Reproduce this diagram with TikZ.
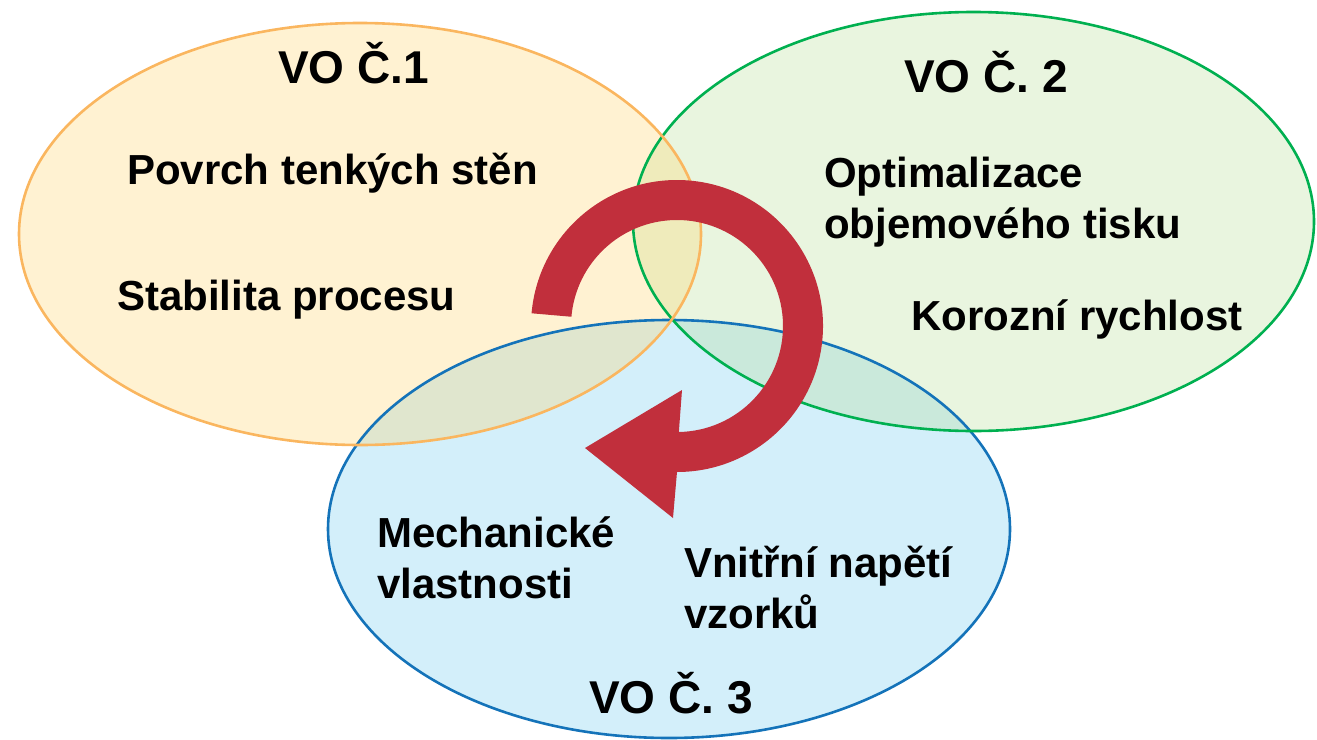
\documentclass[tikz,border=0pt]{standalone}
\usepackage{fontspec}
\setmainfont{Liberation Sans}
\usetikzlibrary{calc}
\definecolor{fillA}{RGB}{255,212,105}
\definecolor{fillB}{RGB}{182,222,148}
\definecolor{fillC}{RGB}{108,202,238}
\definecolor{lineA}{RGB}{250,182,95}
\definecolor{lineB}{RGB}{0,176,80}
\definecolor{lineC}{RGB}{20,115,185}
\definecolor{arrowred}{RGB}{193,47,60}
\tikzset{
  vofill/.style={fill opacity=0.3},
  voline/.style={line width=2.6pt},
  title/.style={anchor=base west, inner sep=0pt, font=\fontsize{46}{55}\selectfont\bfseries},
  item/.style={anchor=base west, inner sep=0pt, align=left, font=\fontsize{42}{51}\selectfont\bfseries},
}
\begin{document}
\begin{tikzpicture}[x=1pt,y=1pt]
\useasboundingbox (0,0) rectangle (1317,-739);
% fills
\fill[fillC, vofill] (669,-529) ellipse [x radius=341pt, y radius=209pt];
\fill[fillB, vofill] (973.5,-221.5) ellipse [x radius=340.5pt, y radius=209.5pt];
\fill[fillA, vofill] (360,-234) ellipse [x radius=341pt, y radius=211pt];
% outlines
\draw[lineC, voline] (669,-529) ellipse [x radius=341pt, y radius=209pt];
\draw[lineB, voline] (973.5,-221.5) ellipse [x radius=340.5pt, y radius=209.5pt];
\draw[lineA, voline] (360,-234) ellipse [x radius=341pt, y radius=211pt];
% cycle arrow
\coordinate (O) at (677,-326);
\fill[arrowred] ($(O)+(175:146pt)$) arc[start angle=175, end angle=-90, radius=146pt]
  -- ($(O)+(-4,-192)$) -- ($(O)+(-92,-122)$) -- ($(O)+(5,-64)$)
  -- ($(O)+(-89:106pt)$) arc[start angle=-89, end angle=175, radius=106pt] -- cycle;
% texts (multi-line nodes: base = last line)
\node[title] (vo1) at (278,-83) {VO Č.1};
\node[item] (a1) at (127,-184) {Povrch tenkých stěn};
\node[item] (a2) at (117,-310) {Stabilita procesu};
\node[title] (vo2) at (904,-92) {VO Č. 2};
\node[item] (b1) at (824,-238) {Optimalizace\\objemového tisku};
\node[item] (b2) at (911,-330) {Korozní rychlost};
\node[item] (c1) at (377,-598) {Mechanické\\vlastnosti};
\node[item] (c2) at (684,-628) {Vnitřní napětí\\vzorků};
\node[title] (vo3) at (589,-713) {VO Č. 3};
\end{tikzpicture}
\end{document}
